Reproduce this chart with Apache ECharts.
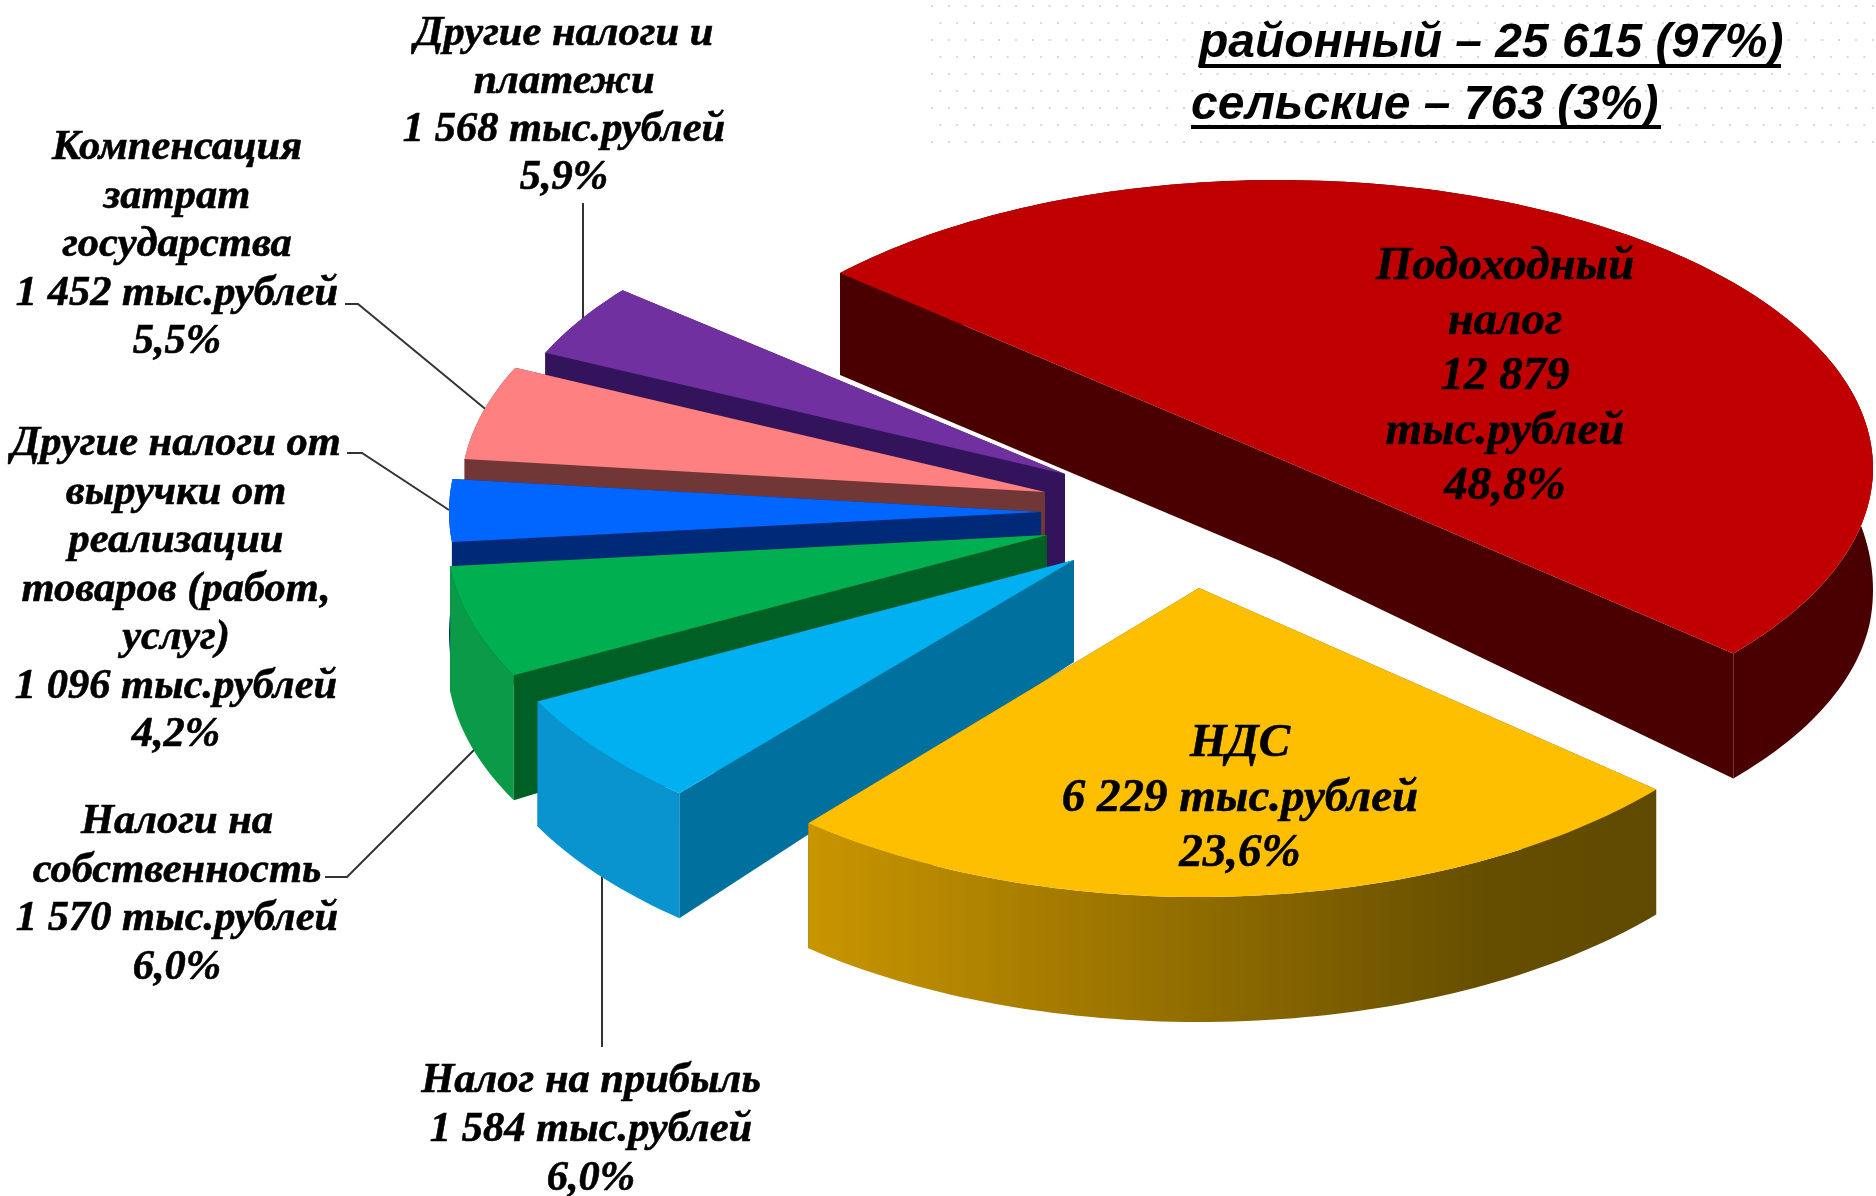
<!DOCTYPE html>
<html>
<head>
<meta charset="utf-8">
<title>Налоговые доходы</title>
<script src="https://cdn.jsdelivr.net/npm/echarts@6/dist/echarts.min.js"></script>
<style>
html, body { margin: 0; padding: 0; background: #fff; }
#main { width: 1876px; height: 1196px; }
</style>
</head>
<body>
<div id="main"></div>
<script>
// data, in the order the slices run clockwise
const names = ["Подоходный\nналог", "НДС", "Налог на прибыль", "Налоги на\nсобственность",
  "Другие налоги от\nвыручки от\nреализации\nтоваров (работ,\nуслуг)", "Компенсация\nзатрат\nгосударства", "Другие налоги и\nплатежи"];
const values = [12879, 6229, 1584, 1570, 1096, 1452, 1568];
const percents = ["48,8", "23,6", "6,0", "6,0", "4,2", "5,5", "5,9"];
const headLines = ["районный – 25 615 (97%)", "сельские – 763 (3%)"];

// slice geometry: exploded centre, ellipse radii, where it starts, foreshortening of its angle
const cxs = [1278, 1199, 1074, 1047, 1041, 1045, 1065];
const cys = [468, 588, 560, 535, 512, 492, 474];
const tipShift = [-10, 0, 0, 0, 0, 0, 0];
const rxs = [595, 603, 604, 600, 592, 584, 572];
const rys = [288, 309, 308, 306, 302, 295, 290];
const starts = [222.6, 40.7, 130.8, 152.7, 174.3, 186.4, 204.7];
const squeeze = [1.0097, 1.055, 1.01, 1, 0.8, 0.935, 0.684];

const topColors = ["#c00000", "#fdbf00", "#00b0f0", "#00b050", "#0066ff", "#ff8080", "#7030a0"];
const faceColors = ["#4b0000", "#6b5200", "#00709f", "#005f24", "#002a78", "#713636", "#33145c"];
const rimColors = ["#4b0000", null, "#0a94cf", "#0b9a47", "#002a78", "#713636", "#33145c"];
const drawOrder = [0, 6, 5, 4, 3, 2, 1];

const total = values.reduce((a, b) => a + b, 0);

function spaced(v) {
  return String(v).replace(/\B(?=(\d{3})+$)/g, " ");
}
function depth(t) {
  // near part of the rim looks taller than the far part
  let k = (Math.sin(t) + 0.6) / 0.7;
  k = Math.max(0, Math.min(1, k));
  return 102 + 23 * k;
}

function renderSlice(params, api) {
  const i = drawOrder[params.dataIndex];
  const val = api.value(0);
  const a0 = starts[i] * Math.PI / 180;
  const a1 = a0 + (val / total) * 2 * Math.PI * squeeze[i];
  const cx = cxs[i], cy = cys[i];
  const rim = [], rimLow = [];
  const n = Math.max(6, Math.round((a1 - a0) / 0.02));
  for (let k = 0; k <= n; k++) {
    const t = a0 + (a1 - a0) * k / n;
    const x = cx + rxs[i] * Math.cos(t), y = cy + rys[i] * Math.sin(t);
    rim.push([x, y]);
    rimLow.push([x, y + depth(t)]);
  }
  const tip = [cx, cy + tipShift[i]], tipLow = [cx, cy + tipShift[i] + 102];
  const poly = (pts, fill) => ({ type: "polygon", shape: { points: pts }, style: { fill: fill } });
  const rimFill = rimColors[i] || new echarts.graphic.LinearGradient(0, 0, 1, 0, [
    { offset: 0, color: "#c99500" },
    { offset: 0.8, color: "#664e00" },
    { offset: 1, color: "#5f4a00" }
  ]);
  return {
    type: "group",
    children: [
      poly([tip, rim[n], rimLow[n], tipLow], faceColors[i]),
      poly([tip, rim[0], rimLow[0], tipLow], faceColors[i]),
      poly(rim.concat(rimLow.slice().reverse()), rimFill),
      poly([tip].concat(rim), topColors[i])
    ]
  };
}

// pale dotted patch behind the heading
const dots = [];
for (let row = 0; row < 9; row++) {
  for (let col = 0; col < 58; col++) {
    dots.push({
      type: "rect",
      shape: { x: 931 + col * 16.8 + (row % 2) * 8.4, y: 5 + row * 17, width: 2, height: 2 },
      style: { fill: "#d8d8d8" },
      silent: true
    });
  }
}

function label(text, x, y, lineHeight, size) {
  return {
    type: "text", x: x, y: y, z: 20,
    style: {
      text: text,
      font: 'italic bold ' + size + 'px "Liberation Serif"',
      fill: "#000",
      stroke: "#000",
      lineWidth: 0.6,
      align: "center",
      verticalAlign: "top",
      lineHeight: lineHeight
    }
  };
}
function leader(points) {
  return { type: "polyline", shape: { points: points }, style: { stroke: "#333", lineWidth: 2, fill: null } };
}
function caption(i) {
  return names[i] + "\n" + spaced(values[i]) + " тыс.рублей\n" + percents[i] + "%";
}

const headFont = 'italic bold 48px "Liberation Sans"';
const graphics = dots.concat([
  leader([[583, 203], [583, 322]]),
  leader([[345, 304], [358, 304], [489, 412]]),
  leader([[347, 453], [362, 453], [449, 510]]),
  leader([[325, 877], [347, 877], [478, 746]]),
  leader([[602, 876], [602, 1047]]),
  label(caption(6), 564, 10, 48, 42.5),
  label(caption(5), 177, 124, 48.5, 42.5),
  label(caption(4), 176, 420, 48.5, 42.5),
  label(caption(3), 177, 798, 48.5, 42.5),
  label(caption(2), 591, 1057, 49, 42.5),
  label(names[0] + "\n" + spaced(values[0]) + "\nтыс.рублей\n" + percents[0] + "%", 1505, 239, 55, 47),
  label(caption(1), 1240, 716, 55, 47),
  { type: "text", x: 1199, y: 20, z: 20, style: { text: headLines[0], font: headFont, fill: "#000" } },
  { type: "text", x: 1191, y: 82, z: 20, style: { text: headLines[1], font: headFont, fill: "#000" } },
  { type: "rect", z: 20, shape: { x: 1199, y: 64, width: 582, height: 4 }, style: { fill: "#000" } },
  { type: "rect", z: 20, shape: { x: 1191, y: 125, width: 470, height: 4 }, style: { fill: "#000" } }
]);

const chart = echarts.init(document.getElementById("main"));
chart.setOption({
  animation: false,
  backgroundColor: "#fff",
  graphic: graphics,
  series: [{
    type: "custom",
    coordinateSystem: "none",
    z: 5,
    silent: true,
    renderItem: renderSlice,
    data: drawOrder.map((i) => ({ name: names[i], value: [values[i]] }))
  }]
});
</script>
</body>
</html>
